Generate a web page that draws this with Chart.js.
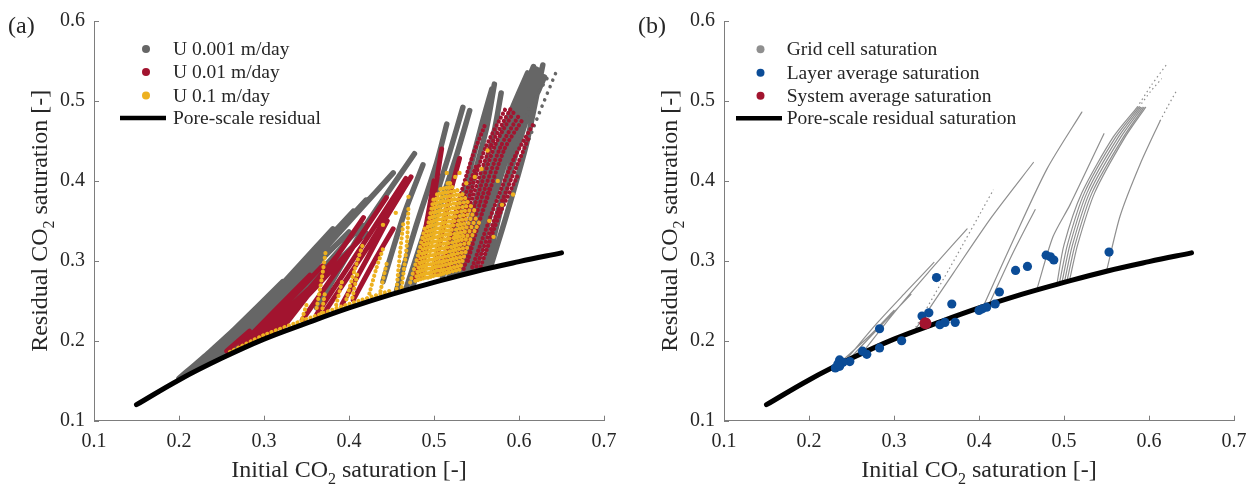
<!DOCTYPE html>
<html>
<head>
<meta charset="utf-8">
<script src="https://cdn.jsdelivr.net/npm/chart.js@4.4.1/dist/chart.umd.min.js"></script>
<style>
  html, body { margin: 0; padding: 0; background: #fff; }
  #wrap { position: relative; width: 1260px; height: 488px; }
  .panel { position: absolute; top: 0; width: 630px; height: 488px; }
</style>
</head>
<body>
<div id="wrap">
  <div class="panel" style="left:0"><canvas id="chartA" width="630" height="488"></canvas></div>
  <div class="panel" style="left:630px"><canvas id="chartB" width="630" height="488"></canvas></div>
</div>
<script>
// ---- data ----
// pore-scale residual curve (both panels)
const poreX = [0.15, 0.20, 0.25, 0.30, 0.35, 0.40, 0.45, 0.50, 0.55, 0.60, 0.65];
const poreY = [0.120, 0.151, 0.178, 0.202, 0.222, 0.241, 0.258, 0.273, 0.287, 0.299, 0.310];

// panel (a): streaks of grid-cell points, [initial, residual]
const streaksU0001 = [
  [[0.200,0.153],[0.236,0.186],[0.267,0.216]],
  [[0.210,0.158],[0.265,0.214],[0.322,0.274]],
  [[0.215,0.161],[0.275,0.222],[0.335,0.285]],
  [[0.220,0.164],[0.285,0.228],[0.350,0.298]],
  [[0.225,0.167],[0.295,0.240],[0.365,0.318]],
  [[0.230,0.170],[0.305,0.252],[0.381,0.340]],
  [[0.235,0.172],[0.320,0.265],[0.405,0.362]],
  [[0.240,0.175],[0.340,0.283],[0.436,0.391]],
  [[0.245,0.178],[0.330,0.272],[0.420,0.376]],
  [[0.255,0.182],[0.330,0.262],[0.400,0.336]],
  [[0.260,0.185],[0.350,0.290],[0.452,0.410]],
  [[0.270,0.191],[0.320,0.245],[0.365,0.292]],
  [[0.285,0.198],[0.350,0.268],[0.415,0.345]],
  [[0.300,0.206],[0.360,0.270],[0.420,0.335]],
  [[0.362,0.241],[0.417,0.340],[0.477,0.434]],
  [[0.440,0.274],[0.464,0.356],[0.487,0.420]],
  [[0.456,0.263],[0.479,0.344],[0.503,0.422],[0.515,0.471]],
  [[0.467,0.265],[0.495,0.356],[0.518,0.434],[0.534,0.492]],
  [[0.475,0.268],[0.503,0.356],[0.526,0.430],[0.542,0.488]],
  [[0.510,0.280],[0.534,0.380],[0.556,0.470],[0.568,0.515]],
  [[0.518,0.282],[0.542,0.385],[0.562,0.467],[0.571,0.521]],
  [[0.524,0.283],[0.552,0.385],[0.571,0.463],[0.579,0.510]],
  [[0.530,0.286],[0.558,0.385],[0.585,0.475],[0.613,0.531]],
  [[0.534,0.287],[0.562,0.390],[0.588,0.480],[0.610,0.535]],
  [[0.538,0.287],[0.567,0.393],[0.593,0.479],[0.617,0.543]],
  [[0.545,0.289],[0.570,0.389],[0.597,0.480],[0.620,0.540]],
  [[0.550,0.290],[0.573,0.385],[0.597,0.467],[0.622,0.539]],
  [[0.558,0.292],[0.581,0.385],[0.605,0.479],[0.626,0.533]],
  [[0.562,0.293],[0.586,0.395],[0.610,0.480],[0.630,0.530]],
  [[0.567,0.294],[0.585,0.356],[0.609,0.447],[0.628,0.545]]
];
const sparseU0001 = [
  [[0.600,0.420],[0.622,0.480],[0.644,0.537]],
  [[0.596,0.440],[0.612,0.490],[0.634,0.530]]
];
const streaksU001 = [
  [[0.256,0.187],[0.283,0.212]],
  [[0.270,0.191],[0.312,0.237],[0.354,0.282]],
  [[0.280,0.196],[0.325,0.245],[0.369,0.294]],
  [[0.290,0.200],[0.325,0.237],[0.360,0.272]],
  [[0.300,0.205],[0.345,0.255],[0.385,0.305]],
  [[0.310,0.210],[0.362,0.268],[0.413,0.327]],
  [[0.322,0.216],[0.372,0.285],[0.417,0.354]],
  [[0.345,0.226],[0.395,0.302],[0.444,0.379]],
  [[0.362,0.233],[0.415,0.318],[0.467,0.403]],
  [[0.372,0.237],[0.425,0.322],[0.473,0.405]],
  [[0.392,0.246],[0.420,0.300],[0.445,0.350]],
  [[0.405,0.251],[0.430,0.300],[0.452,0.340]],
  [[0.485,0.280],[0.500,0.380],[0.509,0.440]],
  [[0.500,0.284],[0.518,0.380],[0.530,0.428]],
  [[0.478,0.278],[0.490,0.340],[0.500,0.400]]
];
const sparseU001 = [
  [[0.505,0.284],[0.525,0.360],[0.545,0.430],[0.560,0.470]],
  [[0.510,0.286],[0.530,0.362],[0.550,0.420]],
  [[0.515,0.287],[0.537,0.365],[0.560,0.440],[0.585,0.492]],
  [[0.520,0.288],[0.542,0.368],[0.566,0.442],[0.590,0.490]],
  [[0.525,0.289],[0.548,0.370],[0.572,0.445],[0.595,0.488]],
  [[0.530,0.290],[0.554,0.372],[0.578,0.442],[0.600,0.482]],
  [[0.535,0.290],[0.560,0.370],[0.583,0.440],[0.605,0.478]],
  [[0.540,0.300],[0.552,0.345],[0.565,0.390]],
  [[0.545,0.292],[0.570,0.365],[0.595,0.430],[0.618,0.473]],
  [[0.550,0.293],[0.575,0.362],[0.598,0.420],[0.612,0.455]],
  [[0.555,0.293],[0.578,0.360],[0.600,0.410]]
];
const sparseU01 = [
  [[0.362,0.241],[0.368,0.278],[0.373,0.315]],
  [[0.368,0.235],[0.372,0.262]],
  [[0.397,0.252],[0.407,0.290],[0.417,0.323]],
  [[0.404,0.254],[0.410,0.285]],
  [[0.424,0.259],[0.432,0.290],[0.440,0.315]],
  [[0.456,0.265],[0.460,0.310],[0.464,0.348]],
  [[0.462,0.267],[0.468,0.320],[0.470,0.368]],
  [[0.472,0.273],[0.482,0.310],[0.490,0.345]],
  [[0.478,0.275],[0.490,0.330],[0.500,0.380]],
  [[0.481,0.276],[0.493,0.330],[0.504,0.385]],
  [[0.484,0.277],[0.497,0.335],[0.508,0.392]],
  [[0.487,0.278],[0.500,0.335],[0.512,0.395]],
  [[0.490,0.279],[0.503,0.340],[0.516,0.397]],
  [[0.493,0.279],[0.506,0.338],[0.519,0.397]],
  [[0.496,0.280],[0.509,0.340],[0.522,0.395]],
  [[0.499,0.281],[0.511,0.337],[0.525,0.392]],
  [[0.502,0.282],[0.514,0.335],[0.528,0.390]],
  [[0.505,0.282],[0.517,0.335],[0.531,0.388]],
  [[0.508,0.283],[0.520,0.335],[0.534,0.385]],
  [[0.511,0.284],[0.524,0.332],[0.537,0.380]],
  [[0.515,0.285],[0.527,0.330],[0.540,0.375]],
  [[0.518,0.286],[0.530,0.330],[0.544,0.370]],
  [[0.522,0.287],[0.534,0.330],[0.548,0.365]],
  [[0.526,0.288],[0.538,0.328],[0.551,0.357]],
  [[0.530,0.289],[0.542,0.325],[0.554,0.350]],
  [[0.345,0.228],[0.350,0.245]],
  [[0.385,0.245],[0.392,0.275]],
  [[0.437,0.262],[0.445,0.300]],
  [[0.260,0.186],[0.300,0.207],[0.350,0.227],[0.400,0.246],[0.450,0.263]]
];
const looseU01X = [0.593, 0.563, 0.556, 0.548, 0.575, 0.580, 0.470, 0.515, 0.525, 0.440, 0.455, 0.565, 0.570, 0.530, 0.538, 0.518];
const looseU01Y = [0.383, 0.438, 0.415, 0.405, 0.400, 0.370, 0.380, 0.410, 0.405, 0.345, 0.360, 0.350, 0.330, 0.410, 0.397, 0.397];

// panel (b): grid-cell trajectories
const cellLines = [
  [[0.550,0.287],[0.566,0.356],[0.590,0.422],[0.613,0.475]],
  [[0.492,0.273],[0.500,0.320],[0.521,0.385],[0.558,0.455],[0.586,0.492]],
  [[0.495,0.274],[0.504,0.320],[0.524,0.385],[0.561,0.455],[0.588,0.492]],
  [[0.498,0.275],[0.507,0.320],[0.527,0.385],[0.564,0.455],[0.590,0.492]],
  [[0.501,0.276],[0.510,0.320],[0.530,0.385],[0.567,0.455],[0.592,0.492]],
  [[0.504,0.277],[0.513,0.320],[0.533,0.385],[0.570,0.455],[0.594,0.492]],
  [[0.507,0.278],[0.516,0.320],[0.536,0.385],[0.572,0.455],[0.596,0.492]],
  [[0.468,0.264],[0.487,0.330],[0.507,0.370],[0.547,0.459]],
  [[0.405,0.243],[0.440,0.325],[0.480,0.415],[0.521,0.486]],
  [[0.412,0.246],[0.440,0.310],[0.466,0.364]],
  [[0.325,0.214],[0.370,0.285],[0.415,0.355],[0.464,0.423]],
  [[0.262,0.184],[0.300,0.235],[0.340,0.285],[0.386,0.340]],
  [[0.245,0.178],[0.280,0.222],[0.315,0.262],[0.347,0.298]],
  [[0.250,0.180],[0.290,0.225],[0.320,0.258]],
  [[0.240,0.176],[0.270,0.205],[0.300,0.238]]
];
const cellLinesSparse = [
  [[0.323,0.212],[0.365,0.290],[0.417,0.389]],
  [[0.586,0.492],[0.603,0.520],[0.621,0.546]],
  [[0.588,0.492],[0.602,0.512],[0.615,0.528]],
  [[0.613,0.475],[0.622,0.493],[0.632,0.512]]
];
const layerX = [0.553,0.479,0.484,0.488,0.457,0.443,0.350,0.424,0.368,0.419,0.409,0.400,0.404,0.341,0.333,0.354,0.360,0.372,0.283,0.309,0.283,0.268,0.263,0.248,0.236,0.240,0.231,0.236,0.234];
const layerY = [0.311,0.307,0.305,0.301,0.293,0.288,0.279,0.261,0.246,0.246,0.242,0.238,0.240,0.235,0.231,0.220,0.223,0.223,0.215,0.200,0.191,0.183,0.187,0.174,0.176,0.173,0.166,0.168,0.171];
const systemX = [0.337];
const systemY = [0.222];

// ---- styling ----
const serif = '"Liberation Serif", "Times New Roman", serif';
const axisColor = '#7d7d7d';
const textColor = '#262626';
const GRAY_A = '#666666', GRAY_B = '#8f8f8f', RED = '#A2142F', YELLOW = '#EDB120', BLUE = '#0B4C97';

function toPoints(xs, ys) {
  return xs.map((x, i) => ({x: x, y: ys[i]}));
}
// one dataset per colour, streaks separated by gaps
function streakData(streaks) {
  const out = [];
  streaks.forEach(s => {
    s.forEach(p => out.push({x: p[0], y: p[1]}));
    out.push({x: s[s.length - 1][0], y: null});
  });
  return out;
}
function lineSet(label, data, color, width, order, extra) {
  return Object.assign({
    label: label, data: data, showLine: true, spanGaps: false,
    borderColor: color, backgroundColor: color, borderWidth: width,
    pointRadius: 0, pointHoverRadius: 0, tension: 0.25,
    borderCapStyle: 'round', borderJoinStyle: 'round', fill: false, order: order
  }, extra || {});
}
function dotSet(label, data, color, r, order) {
  return {label: label, data: data, showLine: false, pointRadius: r, pointHoverRadius: r,
    pointBackgroundColor: color, pointBorderWidth: 0, backgroundColor: color, borderColor: color, order: order};
}

function drawRich(ctx, parts, cx, cy, angle) {
  ctx.save();
  ctx.translate(cx, cy);
  ctx.rotate(angle);
  ctx.textAlign = 'left';
  ctx.textBaseline = 'alphabetic';
  let total = 0;
  const widths = parts.map(p => {
    ctx.font = (p.sub ? '16px ' : '24px ') + serif;
    const w = ctx.measureText(p.t).width;
    total += w;
    return w;
  });
  let x = -total / 2;
  parts.forEach((p, i) => {
    ctx.font = (p.sub ? '16px ' : '24px ') + serif;
    ctx.fillText(p.t, x, p.sub ? 7 : 0);
    x += widths[i];
  });
  ctx.restore();
}

const axisDecor = {
  id: 'axisDecor',
  afterDraw(chart, args, o) {
    const ctx = chart.ctx, a = chart.chartArea;
    const xs = chart.scales.x, ys = chart.scales.y;
    ctx.save();
    // inward tick marks
    ctx.strokeStyle = axisColor;
    ctx.lineWidth = 1;
    ctx.beginPath();
    xs.ticks.forEach(t => {
      const p = Math.round(xs.getPixelForValue(t.value)) + 0.5;
      ctx.moveTo(p, a.bottom); ctx.lineTo(p, a.bottom - 5);
    });
    ys.ticks.forEach(t => {
      const p = Math.round(ys.getPixelForValue(t.value)) + 0.5;
      ctx.moveTo(a.left, p); ctx.lineTo(a.left + 5, p);
    });
    ctx.stroke();

    ctx.fillStyle = textColor;
    drawRich(ctx, o.xTitle, (a.left + a.right) / 2, a.bottom + 56, 0);
    drawRich(ctx, o.yTitle, a.left - 47, (a.top + a.bottom) / 2, -Math.PI / 2);

    ctx.font = '24px ' + serif;
    ctx.textAlign = 'left';
    ctx.textBaseline = 'alphabetic';
    ctx.fillText(o.letter, 8, 33);

    // legend
    o.legend.forEach((item, i) => {
      const yy = o.rows[i];
      if (item.kind === 'dot') {
        ctx.fillStyle = item.color;
        ctx.beginPath();
        ctx.arc(o.markerX, yy, 4, 0, Math.PI * 2);
        ctx.fill();
      } else {
        ctx.strokeStyle = item.color;
        ctx.lineWidth = 4.5;
        ctx.beginPath();
        ctx.moveTo(o.lineX[0], yy); ctx.lineTo(o.lineX[1], yy);
        ctx.stroke();
      }
      ctx.fillStyle = textColor;
      ctx.font = '19.5px ' + serif;
      ctx.textBaseline = 'middle';
      ctx.fillText(item.label, o.textX, yy + 1);
    });
    ctx.restore();
  }
};

function makeOptions(decor) {
  const tickFont = {family: serif, size: 20};
  return {
    responsive: false, animation: false, devicePixelRatio: 1, events: [],
    layout: {padding: {top: 15, right: 26, left: 0, bottom: 0}},
    plugins: {legend: {display: false}, tooltip: {enabled: false}, axisDecor: decor},
    scales: {
      x: {
        type: 'linear', min: 0.1, max: 0.7,
        afterFit: s => { s.height = 67.3; },
        grid: {display: true, drawOnChartArea: false, drawTicks: false},
        border: {display: true, color: axisColor, width: 1},
        ticks: {stepSize: 0.1, padding: 9, color: textColor, font: tickFont, maxRotation: 0, autoSkip: false,
          callback: v => Number(v).toFixed(1)}
      },
      y: {
        type: 'linear', min: 0.1, max: 0.6,
        afterFit: s => { s.width = 94; },
        grid: {display: true, drawOnChartArea: false, drawTicks: false},
        border: {display: true, color: axisColor, width: 1},
        ticks: {stepSize: 0.1, padding: 9, color: textColor, font: tickFont, autoSkip: false,
          callback: v => Number(v).toFixed(1)}
      }
    }
  };
}

const xTitle = [{t: 'Initial CO'}, {t: '2', sub: true}, {t: ' saturation [-]'}];
const yTitle = [{t: 'Residual CO'}, {t: '2', sub: true}, {t: ' saturation [-]'}];

new Chart(document.getElementById('chartA'), {
  type: 'scatter',
  data: {
    datasets: [
      lineSet('Pore-scale residual', toPoints(poreX, poreY), '#000000', 5, 0, {tension: 0.4}),
      dotSet('U 0.1 m/day', toPoints(looseU01X, looseU01Y), YELLOW, 2.2, 1),
      lineSet('U 0.1 m/day', streakData(sparseU01), YELLOW, 4.2, 2, {borderDash: [0.01, 4.6]}),
      lineSet('U 0.01 m/day', streakData(sparseU001), RED, 4.2, 3, {borderDash: [0.01, 4.4]}),
      lineSet('U 0.01 m/day', streakData(streaksU001), RED, 5, 4),
      lineSet('U 0.001 m/day', streakData(sparseU0001), GRAY_A, 3.6, 5, {borderDash: [0.01, 7]}),
      lineSet('U 0.001 m/day', streakData(streaksU0001), GRAY_A, 5.5, 6)
    ]
  },
  options: makeOptions({
    letter: '(a)', xTitle: xTitle, yTitle: yTitle,
    markerX: 146, textX: 173, lineX: [120, 166], rows: [49, 72, 95.5, 118],
    legend: [
      {kind: 'dot', color: GRAY_A, label: 'U 0.001 m/day'},
      {kind: 'dot', color: RED, label: 'U 0.01 m/day'},
      {kind: 'dot', color: YELLOW, label: 'U 0.1 m/day'},
      {kind: 'line', color: '#000000', label: 'Pore-scale residual'}
    ]
  }),
  plugins: [axisDecor]
});

new Chart(document.getElementById('chartB'), {
  type: 'scatter',
  data: {
    datasets: [
      dotSet('System average saturation', toPoints(systemX, systemY), RED, 6, 0),
      dotSet('Layer average saturation', toPoints(layerX, layerY), BLUE, 4.6, 1),
      lineSet('Pore-scale residual saturation', toPoints(poreX, poreY), '#000000', 5, 2, {tension: 0.4}),
      lineSet('Grid cell saturation', streakData(cellLinesSparse), GRAY_B, 1.2, 3, {borderDash: [1.5, 3], borderCapStyle: 'butt'}),
      lineSet('Grid cell saturation', streakData(cellLines), GRAY_B, 1.2, 4)
    ]
  },
  options: makeOptions({
    letter: '(b)', xTitle: xTitle, yTitle: yTitle,
    markerX: 130.5, textX: 156.7, lineX: [106, 152], rows: [49.3, 72.7, 95.7, 118.3],
    legend: [
      {kind: 'dot', color: GRAY_B, label: 'Grid cell saturation'},
      {kind: 'dot', color: BLUE, label: 'Layer average saturation'},
      {kind: 'dot', color: RED, label: 'System average saturation'},
      {kind: 'line', color: '#000000', label: 'Pore-scale residual saturation'}
    ]
  }),
  plugins: [axisDecor]
});
</script>
</body>
</html>
